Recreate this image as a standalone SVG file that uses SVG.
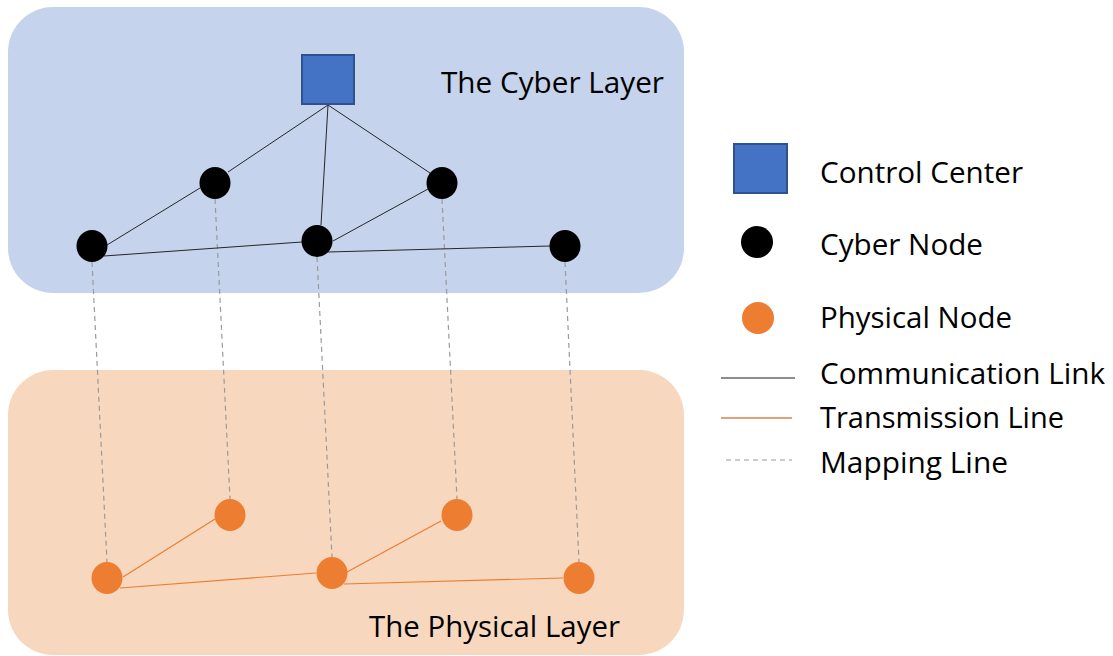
<svg xmlns="http://www.w3.org/2000/svg" width="1113" height="656" viewBox="0 0 1113 656">
<style>
.lbl{font-family:"Open Sans","Noto Sans","Liberation Sans",sans-serif;font-size:29px;fill:#000}
.cyber{fill:#000}
.phys{fill:#ED7D31}
.comm{stroke:#262626;stroke-width:1;fill:none}
.trans{stroke:#ED7D31;stroke-width:1.2;fill:none}
.map{stroke:#9a9a9a;stroke-width:1.2;stroke-dasharray:5,4;fill:none}
.cc{fill:#4472C4;stroke:#2F528F;stroke-width:2}
</style>
<rect width="1113" height="656" fill="#fff"/>
<g id="cyber-layer">
<rect x="8" y="7" width="676" height="286" rx="45" ry="45" fill="#C5D3EC"/>
<text class="lbl" x="441" y="93" textLength="223" lengthAdjust="spacingAndGlyphs">The Cyber Layer</text>
</g>
<g id="physical-layer">
<rect x="8" y="370" width="676" height="285" rx="45" ry="45" fill="#F8D7BF"/>
<text class="lbl" x="369" y="637" textLength="251" lengthAdjust="spacingAndGlyphs">The Physical Layer</text>
</g>
<g id="connectors">
<line class="map" x1="92" y1="262" x2="107" y2="562"/>
<line class="map" x1="215" y1="199" x2="230" y2="499"/>
<line class="map" x1="317" y1="257" x2="332" y2="557"/>
<line class="map" x1="442" y1="199" x2="457" y2="499"/>
<line class="map" x1="565" y1="262" x2="579" y2="562"/>
<line class="comm" x1="328" y1="105" x2="228" y2="172"/>
<line class="comm" x1="328" y1="105" x2="321" y2="225"/>
<line class="comm" x1="328" y1="105" x2="430" y2="173"/>
<line class="comm" x1="200" y1="188" x2="107" y2="245"/>
<line class="comm" x1="104" y1="256" x2="302" y2="242"/>
<line class="comm" x1="333" y1="241" x2="428" y2="189"/>
<line class="comm" x1="328" y1="252" x2="550" y2="246"/>
<line class="trans" x1="123" y1="577" x2="215" y2="519"/>
<line class="trans" x1="120" y1="588" x2="316" y2="573"/>
<line class="trans" x1="347" y1="572" x2="441" y2="521"/>
<line class="trans" x1="344" y1="584" x2="563" y2="578"/>
</g>
<g id="control-center"><rect class="cc" x="302" y="55" width="52" height="49"/></g>
<g id="cyber-a"><ellipse class="cyber" cx="215" cy="183" rx="15.5" ry="16"/></g>
<g id="cyber-b"><ellipse class="cyber" cx="442" cy="183" rx="15.5" ry="16"/></g>
<g id="cyber-c"><ellipse class="cyber" cx="92" cy="246" rx="15.5" ry="16"/></g>
<g id="cyber-d"><ellipse class="cyber" cx="317" cy="241" rx="15.5" ry="16"/></g>
<g id="cyber-e"><ellipse class="cyber" cx="565" cy="246" rx="15.5" ry="16"/></g>
<g id="phys-1"><ellipse class="phys" cx="107" cy="578" rx="15.5" ry="16"/></g>
<g id="phys-2"><ellipse class="phys" cx="230" cy="515" rx="15.5" ry="16"/></g>
<g id="phys-3"><ellipse class="phys" cx="332" cy="573" rx="15.5" ry="16"/></g>
<g id="phys-4"><ellipse class="phys" cx="457" cy="515" rx="15.5" ry="16"/></g>
<g id="phys-5"><ellipse class="phys" cx="579" cy="578" rx="15.5" ry="16"/></g>
<g id="legend">
<rect class="cc" x="734" y="144" width="53" height="49"/>
<text class="lbl" x="820" y="183" textLength="203" lengthAdjust="spacingAndGlyphs">Control Center</text>
<circle class="cyber" cx="757" cy="242" r="16"/>
<text class="lbl" x="820" y="255" textLength="163" lengthAdjust="spacingAndGlyphs">Cyber Node</text>
<circle class="phys" cx="758" cy="318" r="16"/>
<text class="lbl" x="820" y="328" textLength="192" lengthAdjust="spacingAndGlyphs">Physical Node</text>
<line x1="721" y1="378" x2="795" y2="378" stroke="#666" stroke-width="1.3"/>
<text class="lbl" x="820" y="384" textLength="285" lengthAdjust="spacingAndGlyphs">Communication Link</text>
<line x1="721" y1="418" x2="792" y2="418" stroke="#D9824C" stroke-width="1.3"/>
<text class="lbl" x="820" y="428" textLength="244" lengthAdjust="spacingAndGlyphs">Transmission Line</text>
<line class="map" x1="726" y1="460" x2="792" y2="460" stroke-dasharray="4,3.5"/>
<text class="lbl" x="820" y="473" textLength="188" lengthAdjust="spacingAndGlyphs">Mapping Line</text>
</g>
</svg>
